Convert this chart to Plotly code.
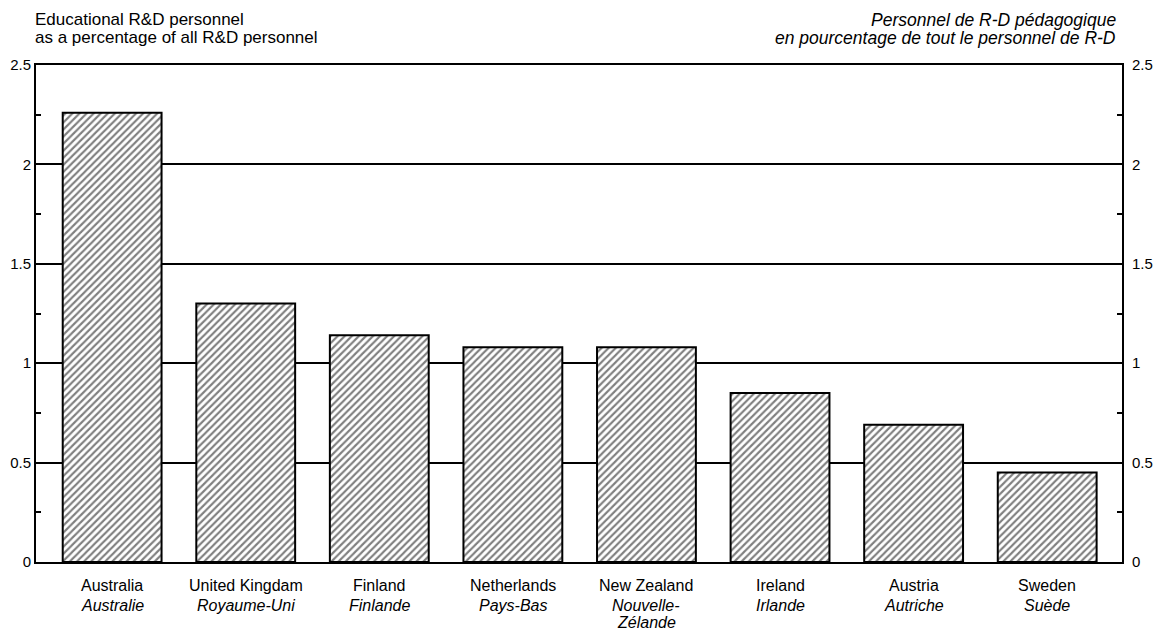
import plotly.graph_objects as go

countries_en = ["Australia", "United Kingdam", "Finland", "Netherlands", "New Zealand", "Ireland", "Austria", "Sweden"]
countries_fr = ["Australie", "Royaume-Uni", "Finlande", "Pays-Bas", "Nouvelle-", "Irlande", "Autriche", "Suède"]
countries_fr2 = ["", "", "", "", "Zélande", "", "", ""]
values = [2.26, 1.30, 1.14, 1.08, 1.08, 0.85, 0.69, 0.45]
y_ticks = [0, 0.5, 1, 1.5, 2, 2.5]
y_ticktext = ["0", "0.5", "1", "1.5", "2", "2.5"]

FONT = "Liberation Sans"
W, H = 1156, 630
L, R, T, B = 36, 34, 65, 68
PH = H - T - B
xpos = list(range(len(countries_en)))


def ypaper(ypix):
    return (H - B - ypix) / PH


fig = go.Figure()
fig.add_trace(go.Bar(
    x=xpos, y=values, width=0.74,
    marker=dict(color="white",
                line=dict(color="black", width=2),
                pattern=dict(shape="/", fgcolor="black", bgcolor="white", size=5, solidity=0.42)),
    showlegend=False, hoverinfo="skip",
))
# invisible trace for right axis
fig.add_trace(go.Scatter(x=[0], y=[0], yaxis="y2", mode="markers",
                         marker=dict(opacity=0), showlegend=False, hoverinfo="skip"))

fig.update_layout(
    width=W, height=H,
    margin=dict(l=L, r=R, t=T, b=B, autoexpand=False),
    paper_bgcolor="white", plot_bgcolor="white",
    font=dict(family=FONT, size=14, color="black"),
    xaxis=dict(range=[-0.57, 7.56], tickmode="array", tickvals=xpos, ticktext=[""] * len(xpos),
               showline=True, linecolor="black", linewidth=2, mirror=True, automargin=False,
               showgrid=False, zeroline=False, ticks=""),
    yaxis=dict(range=[0, 2.5], tickmode="array", tickvals=y_ticks, ticktext=y_ticktext,
               showline=True, linecolor="black", linewidth=2, mirror="ticks", automargin=False,
               showgrid=True, gridcolor="black", gridwidth=2, zeroline=False,
               ticks="inside", ticklen=0, tickcolor="black",
               minor=dict(dtick=0.25, ticks="inside", ticklen=5, tickcolor="black", tickwidth=2, showgrid=False),
               tickfont=dict(size=15)),
    yaxis2=dict(range=[0, 2.5], overlaying="y", side="right", tickmode="array", automargin=False,
                tickvals=y_ticks, ticktext=y_ticktext, showgrid=False, zeroline=False,
                showline=False, ticks="outside", ticklen=6, tickcolor="rgba(0,0,0,0)",
                tickfont=dict(size=15)),
    bargap=0.26,
)

titles = [
    (0, "left", 19, "Educational R&D personnel", -3, 17),
    (0, "left", 37, "as a percentage of all R&D personnel", -3, 17),
    (1, "right", 20, "<i>Personnel de R-D pédagogique</i>", -4, 17.5),
    (1, "right", 38, "<i>en pourcentage de tout le personnel de R-D</i>", -4, 17.5),
]
for xp, anchor, ypix, txt, xs, fs in titles:
    fig.add_annotation(x=xp, xref="paper", y=ypaper(ypix), yref="paper",
                       xanchor=anchor, yanchor="middle", xshift=xs, showarrow=False,
                       text=txt, font=dict(size=fs, family=FONT))

for i in xpos:
    for ypix, txt in ((585, countries_en[i]), (605, f"<i>{countries_fr[i]}</i>"),
                      (622, f"<i>{countries_fr2[i]}</i>" if countries_fr2[i] else "")):
        if not txt:
            continue
        fig.add_annotation(x=i, xref="x", y=ypaper(ypix), yref="paper",
                           xanchor="center", yanchor="middle", showarrow=False,
                           text=txt, font=dict(size=16, family=FONT))

fig.write_html("out.html", config={"displayModeBar": False},
               post_script="document.body.style.margin='0';")
